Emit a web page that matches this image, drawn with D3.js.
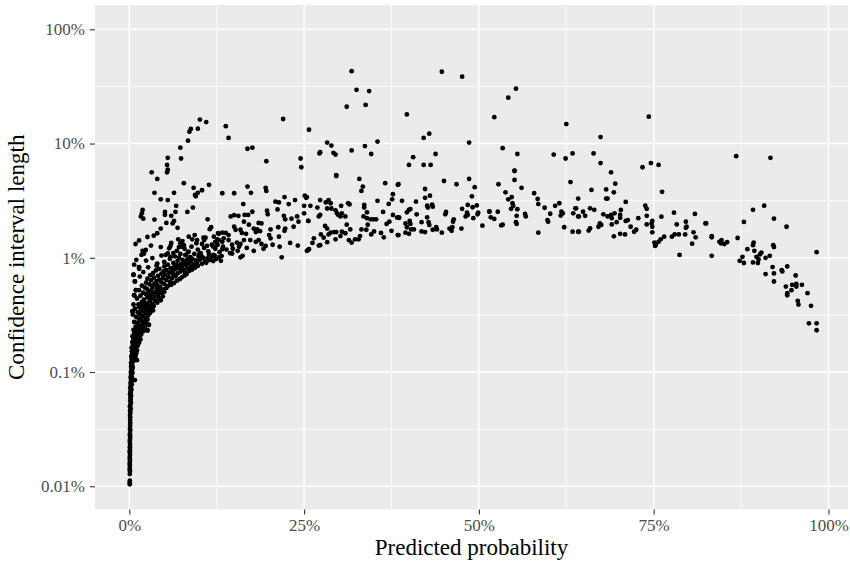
<!DOCTYPE html>
<html><head><meta charset="utf-8">
<script src="https://cdn.jsdelivr.net/npm/d3@7"></script>
<style>body{margin:0;background:#fff}</style>
</head><body>
<svg id="chart" width="850" height="561"></svg>
<script>
// Tick values and labels
const xTicks = [0, 25, 50, 75, 100];
const xTickLabels = ["0%", "25%", "50%", "75%", "100%"];
const xMinor = [12.5, 37.5, 62.5, 87.5];
const yTicks = [0.01, 0.1, 1, 10, 100];
const yTickLabels = ["0.01%", "0.1%", "1%", "10%", "100%"];
const yMinor = [0.0316, 0.316, 3.16, 31.6];

// Data: [predicted probability %, confidence interval length %]
const tailColumn = [[0.07,0.0104],[0.06,0.0108],[0.08,0.0112],[0.07,0.0128],[0.09,0.0135],[0.06,0.0141],[0.08,0.0148],[0.07,0.0155],[0.06,0.016],[0.09,0.0168],[0.08,0.0175],[0.07,0.018],[0.1,0.0188],[0.08,0.0196],[0.07,0.0203],[0.1,0.021],[0.08,0.022],[0.11,0.023],[0.09,0.024],[0.07,0.025],[0.11,0.026],[0.12,0.027],[0.09,0.028],[0.1,0.029],[0.13,0.031],[0.1,0.032],[0.12,0.034],[0.14,0.036],[0.11,0.038],[0.13,0.04]];
const lowBand = [[0.1,0.042],[0.15,0.044],[0.12,0.046],[0.2,0.048],[0.08,0.05],[0.17,0.052],[0.23,0.054],[0.13,0.056],[0.2,0.058],[0.16,0.06],[0.26,0.062],[0.11,0.064],[0.21,0.066],[0.18,0.068],[0.3,0.07],[0.14,0.072],[0.24,0.074],[0.2,0.076],[0.35,0.078],[0.17,0.08],[0.28,0.082],[0.23,0.085],[0.4,0.088],[0.19,0.09],[0.32,0.092],[0.26,0.095],[0.45,0.098],[0.22,0.1],[0.37,0.103],[0.3,0.106],[0.5,0.109],[0.25,0.112],[0.42,0.115],[0.34,0.118],[0.8,0.085],
[0.25,0.12],[0.42,0.122],[0.6,0.125],[0.33,0.128],[0.8,0.13],[0.5,0.133],[0.28,0.136],[0.9,0.138],[0.65,0.14],[0.4,0.143],[1.0,0.146],[0.75,0.15],[0.36,0.152],[1.1,0.155],[0.55,0.158],[0.95,0.16],[1.1,0.127],
[0.32,0.163],[0.7,0.166],[1.2,0.17],[0.5,0.173],[1.0,0.176],[1.4,0.18],[0.42,0.183],[0.85,0.186],[1.25,0.19],[1.6,0.193],[0.6,0.196],[1.1,0.2],[1.45,0.203],[0.46,0.206],[0.9,0.21],[1.7,0.213],[1.3,0.216],[0.7,0.22]];
const riseBand = [[1.6,0.223],[2.0,0.227],[1.1,0.23],[0.6,0.234],[2.6,0.233],[1.8,0.238],[1.3,0.242],[2.2,0.246],[0.9,0.25],[1.5,0.254],[2.8,0.258],[1.9,0.262],[2.4,0.266],[1.2,0.27],[0.7,0.274],[2.1,0.278],[1.7,0.283],[2.6,0.288],[1.4,0.293],[2.3,0.298],[1.0,0.303],[1.9,0.308],[2.7,0.313],[0.5,0.318],
[1.5,0.322],[2.4,0.326],[3.0,0.33],[1.2,0.334],[2.0,0.338],[2.8,0.342],[3.4,0.346],[1.7,0.35],[2.5,0.354],[0.8,0.358],[3.1,0.362],[2.2,0.366],[1.4,0.37],[2.9,0.374],[3.5,0.378],[1.9,0.382],[2.6,0.386],[0.45,0.34],
[1.3,0.39],[3.3,0.395],[2.3,0.4],[4.0,0.405],[1.8,0.41],[2.9,0.415],[3.7,0.42],[4.5,0.425],[2.1,0.43],[3.1,0.435],[1.1,0.44],[4.2,0.445],[2.6,0.45],[3.6,0.455],[4.8,0.46],[1.6,0.465],[3.0,0.47],[4.1,0.475],[2.4,0.48],[3.4,0.485],[0.7,0.47],[4.6,0.49],[2.0,0.495],[3.8,0.5],[5.0,0.505],[2.8,0.51],[4.3,0.515],[1.4,0.52],[3.2,0.525],[0.95,0.52],[4.9,0.53],[2.5,0.535],[3.9,0.54],[5.3,0.545]];
const kneeBand = [[2.2,0.55],[4.4,0.555],[3.3,0.56],[5.5,0.565],[1.8,0.57],[4.0,0.575],[6.0,0.58],[2.9,0.585],[5.0,0.59],[3.6,0.595],[6.4,0.6],[2.4,0.605],[4.6,0.61],[5.8,0.615],[0.8,0.62],[3.9,0.625],[6.8,0.63],[3.1,0.635],[5.3,0.64],[4.3,0.645],[7.2,0.65],[2.6,0.655],[6.1,0.66],[4.8,0.665],[3.5,0.67],[7.5,0.675],[5.6,0.68],[1.5,0.685],[6.6,0.69],[4.1,0.695],[7.9,0.7],[3.0,0.705],[5.1,0.71],[6.3,0.715],[0.6,0.71],[8.2,0.72],
[4.6,0.725],[6.9,0.73],[3.4,0.735],[5.7,0.74],[8.0,0.745],[2.0,0.75],[7.3,0.755],[4.9,0.76],[6.2,0.765],[8.6,0.77],[3.8,0.775],[5.3,0.78],[7.7,0.785],[9.0,0.79],[1.4,0.8],[6.6,0.795],[4.3,0.8],[8.3,0.805],[5.9,0.81],[7.1,0.815],[9.4,0.82],[2.7,0.825],[6.4,0.83],[8.8,0.835],[5.0,0.84],[7.6,0.845],[9.8,0.85],[3.9,0.855],[6.8,0.86],[8.1,0.865],[1.4,0.83],[0.7,0.87],
[5.5,0.87],[9.2,0.875],[7.4,0.88],[10.4,0.885],[4.0,0.89],[8.5,0.895],[6.3,0.9],[11.0,0.905],[9.7,0.91],[7.9,0.915],[5.0,0.92],[10.8,0.925],[8.8,0.93],[12.0,0.935],[6.9,0.94],[2.4,0.945],[9.5,0.95],[11.5,0.955],[7.6,0.96],[10.1,0.965],[8.3,0.97],[12.4,0.975],[5.8,0.98],[9.0,0.985],[11.2,0.99],[3.3,0.995],[10.6,1.0],[7.1,1.005],[12.8,1.01],[8.7,1.015],[11.8,1.02],[9.9,1.025],[6.5,1.03],[13.2,1.035],[10.3,1.04],[4.6,1.045],[12.2,1.05],[8.0,1.055],[1.0,0.96],
[0.6,0.71],[0.8,0.62],[0.93,0.52],[0.7,0.47],[0.6,0.39],[0.45,0.34],[1.4,0.83],[2.8,0.26],[2.6,0.23]];
const upperLeft = [[10.1,16.2],[11.0,15.4],[8.8,13.4],[8.6,12.7],[9.8,13.5],[8.4,10.6],[7.3,9.2],[7.4,7.4],[5.5,7.5],[5.4,6.5],[5.5,5.9],[5.4,5.6],[3.2,5.6],[4.0,4.9],[7.8,4.5],[9.2,4.1],[10.4,3.9],[9.8,3.7],[9.4,3.55],[9.5,3.45],[11.4,4.35],[3.6,3.7],[6.4,3.7],[4.5,3.25],[5.5,3.2],[6.7,2.85],[9.1,2.75],[8.3,2.52],[5.1,2.52],[5.1,2.38],[1.9,2.62],[1.8,2.45],[1.65,2.3],[2.0,2.2],[6.6,2.52],[6.0,2.33],[6.4,2.1],[6.2,2.0],[5.3,2.02],[3.6,2.16],[6.9,1.83],[4.5,1.8],[4.0,1.64],[3.5,1.56],[2.6,1.52],[1.4,1.42],[0.9,1.32],[3.1,1.28],[1.9,1.15],[2.1,1.09],[1.75,1.06],[2.35,1.17],[4.5,1.24],[5.9,1.27],[5.7,1.21],[8.5,1.53],[9.35,1.58],[9.7,1.43],[9.6,1.34],[11.2,2.17],[11.7,1.85],[11.5,1.78],[12.7,1.64],
[7.0,1.45],[7.3,1.34],[7.5,1.25],[7.1,1.24],[7.8,1.29],[10.6,1.5],[10.7,1.43],[10.4,1.32],[11.1,1.27],[12.1,1.53],[12.3,1.38],[12.0,1.25],[12.6,1.3],[5.2,1.06],[5.5,1.09],[5.9,1.02],[10.0,1.07],[11.4,1.07],[12.0,1.06],[8.5,1.13],[8.1,1.06],
[6.3,1.1],[6.8,1.15],[7.3,1.08],[7.9,1.2],[8.4,1.12],[8.9,1.25],[9.3,1.08],[9.8,1.18],[10.2,1.1],[10.7,1.22],[11.3,1.14],[11.8,1.3],[12.3,1.2],[12.9,1.12],[13.4,1.25],[13.9,1.18],[14.4,1.1],[6.0,1.35],[7.6,1.4],[9.0,1.45],[10.9,1.5],[12.6,1.45],[14.8,1.2],[15.5,1.15],[16.8,1.22],[17.8,1.15],[19.2,1.2],[20.5,1.3],[21.5,1.25],[23.0,1.35],[24.1,1.28],[26.2,1.35],[27.8,1.5],[29.5,1.45],[30.2,1.55],[33.0,1.55],[35.0,1.7],[36.0,1.65],[37.5,1.72]];
const quarterBand = [[31.8,43],[32.5,29.5],[34.3,28.8],[31.1,21],[33.8,21.8],[22.0,16.4],[13.8,14.2],[14.2,11.2],[25.7,13.2],[16.9,9.0],[17.6,9.2],[19.6,7.0],[24.5,7.4],[24.6,6.2],[28.3,10.2],[28.9,9.6],[27.2,8.2],[27.3,8.4],[29.2,8.3],[29.5,8.0],[31.8,8.7],[33.7,9.5],[35.5,10.4],[34.6,8.1],[29.6,5.3],
[13.3,3.67],[15.0,3.67],[16.9,4.2],[17.4,3.7],[19.5,4.1],[19.6,3.85],[16.3,2.95],[20.9,3.1],[21.4,3.05],[22.2,3.4],[22.8,2.95],[23.7,3.2],[25.1,3.5],[25.3,3.35],[25.0,2.85],[21.2,2.65],[19.7,2.58],[19.8,2.4],[17.6,2.53],[17.0,2.37],[16.5,2.37],[14.5,2.3],[15.0,2.36],[15.6,2.33],[22.1,2.33],[22.3,2.17],[23.2,2.2],[24.0,2.3],[24.2,2.07],[25.0,2.45],[25.6,2.1],[23.5,1.87],[16.4,2.07],[17.1,1.95],[18.5,2.02],[18.9,2.0],[17.8,1.8],[18.3,1.77],[18.7,1.71],[18.1,1.68],[15.9,1.76],[16.1,1.65],[16.7,1.62],[15.0,1.87],[15.2,1.76],[13.8,1.65],[13.3,1.66],[12.8,1.62],[14.2,1.58],[20.2,1.77],[21.3,1.85],[22.3,1.8],[22.2,1.72],[21.4,1.53],[20.2,1.48],[20.0,1.58],[18.5,1.43],[18.9,1.32],[18.1,1.38],[17.3,1.43],[19.5,1.27],[16.4,1.43],[15.9,1.32],[15.7,1.25],[15.4,1.36],[14.7,1.3],[14.2,1.43],[13.5,1.48],[13.3,1.38],[12.8,1.43],[12.6,1.3],[13.3,1.19],[14.7,1.09],[15.9,1.01],[16.2,1.04],[13.1,0.94],[21.8,1.01],[25.6,1.17],
[29.6,5.2],[32.9,4.9],[33.4,4.2],[33.2,3.85],[36.6,4.5],[38.4,4.35],[37.7,3.6],[37.6,3.25],[35.5,3.15],[37.1,2.96],[25.4,3.4],[25.9,2.85],[27.3,3.2],[28.1,3.05],[28.5,3.2],[28.8,3.0],[26.9,2.75],[28.3,2.7],[28.9,2.7],[30.3,2.85],[31.3,3.0],[31.5,2.93],[29.5,2.6],[29.7,2.45],[29.9,2.37],[30.4,2.45],[30.2,2.3],[30.9,2.3],[33.6,2.9],[33.6,2.75],[34.0,2.5],[33.5,2.3],[34.0,2.22],[34.5,2.17],[34.9,2.17],[35.3,2.17],[36.3,2.52],[37.7,2.37],[38.5,2.26],[36.8,1.98],[37.2,2.07],[25.6,2.1],[27.1,2.3],[27.3,2.37],[31.1,1.95],[28.0,1.9],[28.3,1.8],[31.6,1.77],[33.2,1.77],[33.9,1.76],[34.1,1.95],[28.8,1.66],[29.3,1.68],[29.6,1.68],[28.5,1.6],[27.4,1.6],[30.4,1.69],[30.9,1.64],[34.6,1.6],[26.4,1.48],[28.3,1.37],[31.4,1.43],[31.8,1.36],[32.3,1.45],[32.8,1.45],[36.4,1.51],[27.1,1.28],[27.3,1.29],[25.7,1.19],[25.4,1.15],[38.5,1.58],[38.3,2.25]];
const halfBand = [[44.7,42.5],[47.6,38.5],[55.3,30.2],[54.2,25.2],[39.7,18.0],[52.2,17.0],[62.5,14.8],[42.1,11.2],[42.9,12.2],[48.6,10.2],[40.6,7.6],[40.0,6.5],[42.1,6.5],[43.1,6.5],[43.8,8.1],[53.4,9.1],[55.5,8.1],[55.1,5.8],[60.7,8.0],[62.4,7.4],[63.4,8.2],
[38.5,4.4],[45.0,4.7],[46.8,4.4],[48.6,4.9],[49.4,4.15],[42.3,4.0],[42.3,3.35],[43.0,3.5],[39.0,3.15],[41.0,3.1],[49.0,3.45],[42.6,2.86],[42.7,2.75],[43.3,2.92],[43.4,2.8],[47.6,2.68],[48.4,2.9],[49.1,2.77],[49.7,2.87],[51.5,2.53],[40.0,2.63],[40.2,2.67],[39.7,2.5],[45.3,2.52],[45.2,2.4],[48.3,2.48],[48.4,2.37],[48.1,2.3],[49.9,2.48],[49.8,2.4],[49.2,2.22],[41.1,2.4],[38.6,2.24],[42.6,2.26],[41.8,2.05],[42.8,2.05],[42.9,1.94],[46.4,2.17],[46.3,2.07],[39.5,2.0],[40.1,2.1],[40.2,1.98],[39.7,1.85],[40.3,1.77],[40.7,1.77],[39.5,1.66],[40.0,1.62],[38.4,1.58],[41.8,1.7],[42.3,1.68],[43.4,1.76],[43.9,1.85],[44.0,1.77],[44.7,1.66],[45.8,1.8],[46.2,1.85],[46.1,1.72],[47.5,1.8],[50.5,1.91],
[55.1,5.75],[55.1,4.8],[52.8,4.4],[56.1,4.1],[53.8,3.74],[54.7,3.4],[54.2,3.25],[54.8,3.0],[54.9,2.85],[54.6,2.68],[55.5,2.66],[51.5,2.55],[52.7,2.53],[55.4,2.33],[56.6,2.42],[56.7,2.3],[51.7,2.26],[52.2,2.19],[55.3,2.05],[55.4,1.98],[53.2,1.92],[53.4,1.95],[57.9,3.67],[58.4,3.27],[58.5,2.95],[59.4,2.74],[60.2,2.43],[59.8,2.14],[59.9,2.07],[60.9,2.85],[61.5,3.0],[61.8,2.53],[62.0,2.45],[61.7,2.34],[58.5,1.66],[62.2,1.85],[63.1,4.6],[64.2,3.3],[63.8,2.71],[63.5,2.45],[64.2,2.3],[63.4,1.69],[64.2,1.69]];
const upperBand = [[74.3,17.2],[67.4,11.4],[66.4,8.2],[67.4,6.75],[68.9,5.6],[73.4,6.2],[74.6,6.75],[75.7,6.5],[69.5,4.45],[66.1,3.93],[68.2,3.97],[69.3,3.74],[76.2,3.78],[68.2,3.3],[68.4,3.3],[71.0,3.08],[73.8,2.86],[74.0,2.68],[63.9,2.71],[64.9,2.53],[64.3,2.3],[65.9,2.71],[66.5,2.63],[65.2,2.33],[67.8,2.4],[68.4,2.3],[68.9,2.37],[69.4,2.45],[69.0,2.22],[70.2,2.37],[70.2,2.24],[70.3,2.62],[71.0,2.1],[71.3,2.14],[72.8,2.22],[74.0,2.33],[74.0,1.96],[74.8,2.1],[74.7,2.0],[74.8,1.87],[76.1,2.29],[77.9,2.48],[80.9,2.42],[82.4,2.0],[79.6,2.07],[78.3,1.96],[69.0,1.96],[69.7,2.05],[67.3,2.0],[67.5,1.94],[67.1,1.87],[65.9,1.81],[65.7,1.73],[64.3,1.69],[71.7,1.87],[72.2,1.69],[72.5,1.76],[70.2,1.62],[70.9,1.6],[69.3,1.54],[74.8,1.67],[75.1,1.36],[75.3,1.3],[75.7,1.38],[76.0,1.45],[76.5,1.53],[75.2,1.27],[77.6,1.53],[78.0,1.6],[78.6,1.6],[79.5,1.6],[79.6,1.83],[79.7,1.87],[80.7,1.67],[81.0,1.51],[80.5,1.33],[78.7,1.06]];
const rightTail = [[86.8,7.75],[91.7,7.5],[89.2,2.63],[90.8,2.86],[92.2,2.2],[94.0,1.87],[87.9,2.06],[82.5,2.0],[83.3,1.55],[83.3,1.51],[84.4,1.38],[84.7,1.43],[85.1,1.32],[85.5,1.37],[84.6,1.34],[87.0,1.49],[83.3,1.04],[89.3,1.36],[89.2,1.29],[88.4,1.19],[89.4,1.15],[90.4,1.11],[90.2,1.07],[89.7,1.02],[90.0,0.97],[89.9,0.9],[87.7,1.02],[87.3,0.94],[87.9,0.9],[89.2,0.91],[91.0,1.0],[91.6,1.04],[92.1,1.29],[92.2,1.24],[98.3,1.12],[92.0,0.83],[92.2,0.73],[93.3,0.78],[93.4,0.76],[94.1,0.84],[91.0,0.72],[92.2,0.62],[95.3,0.7],[93.9,0.56],[94.8,0.58],[95.4,0.59],[95.4,0.56],[96.2,0.58],[94.1,0.49],[94.1,0.47],[94.7,0.52],[97.0,0.49],[95.6,0.42],[95.7,0.39],[97.5,0.38],[97.2,0.267],[98.3,0.267],[98.3,0.232]];

const allPoints = [].concat(tailColumn, lowBand, riseBand, kneeBand, upperLeft, quarterBand, halfBand, upperBand, rightTail);

const svg = d3.select("#chart");
const panel = {left: 95, right: 848, top: 5, bottom: 509.5};
const x = d3.scaleLinear().domain([-4.906, 102.79]).range([panel.left, panel.right]);
const y = d3.scaleLog().domain([0.00626, 163.2]).range([panel.bottom, panel.top]);

svg.append("rect").attr("x", panel.left).attr("y", panel.top)
  .attr("width", panel.right - panel.left).attr("height", panel.bottom - panel.top)
  .attr("fill", "#EBEBEB");

const grid = svg.append("g");
grid.selectAll(".xm").data(xMinor).join("line")
  .attr("x1", d => x(d)).attr("x2", d => x(d)).attr("y1", panel.top).attr("y2", panel.bottom)
  .attr("stroke", "#fff").attr("stroke-width", 0.8);
grid.selectAll(".ym").data(yMinor).join("line")
  .attr("y1", d => y(d)).attr("y2", d => y(d)).attr("x1", panel.left).attr("x2", panel.right)
  .attr("stroke", "#fff").attr("stroke-width", 0.8);
grid.selectAll(".xM").data(xTicks).join("line")
  .attr("x1", d => x(d)).attr("x2", d => x(d)).attr("y1", panel.top).attr("y2", panel.bottom)
  .attr("stroke", "#fff").attr("stroke-width", 1.5);
grid.selectAll(".yM").data(yTicks).join("line")
  .attr("y1", d => y(d)).attr("y2", d => y(d)).attr("x1", panel.left).attr("x2", panel.right)
  .attr("stroke", "#fff").attr("stroke-width", 1.5);

svg.append("g").selectAll("circle").data(allPoints).join("circle")
  .attr("cx", d => x(d[0])).attr("cy", d => y(d[1])).attr("r", 2.4).attr("fill", "#000");

const font = "'Liberation Serif', 'Times New Roman', serif";

const xAxis = d3.axisBottom(x).tickValues(xTicks).tickSize(5).tickPadding(4)
  .tickFormat((d, i) => xTickLabels[i]);
const gx = svg.append("g").attr("transform", `translate(0,${panel.bottom})`).call(xAxis);
gx.select(".domain").remove();
gx.selectAll(".tick line").attr("stroke", "#333").attr("stroke-width", 1.1);
gx.selectAll(".tick text").attr("fill", "#4D4D4D").style("font-family", font).style("font-size", "17px");

const yAxis = d3.axisLeft(y).tickValues(yTicks).tickSize(5).tickPadding(5)
  .tickFormat((d, i) => yTickLabels[i]);
const gy = svg.append("g").attr("transform", `translate(${panel.left},0)`).call(yAxis);
gy.select(".domain").remove();
gy.selectAll(".tick line").attr("stroke", "#333").attr("stroke-width", 1.1);
gy.selectAll(".tick text").attr("fill", "#4D4D4D").style("font-family", font).style("font-size", "17px");

svg.append("text").attr("x", (panel.left + panel.right) / 2).attr("y", 555)
  .attr("text-anchor", "middle").style("font-family", font).style("font-size", "23px")
  .attr("fill", "#000").text("Predicted probability");
svg.append("text").attr("transform", `translate(24,${(panel.top + panel.bottom) / 2}) rotate(-90)`)
  .attr("text-anchor", "middle").style("font-family", font).style("font-size", "23px")
  .attr("fill", "#000").text("Confidence interval length");
</script>
</body></html>
